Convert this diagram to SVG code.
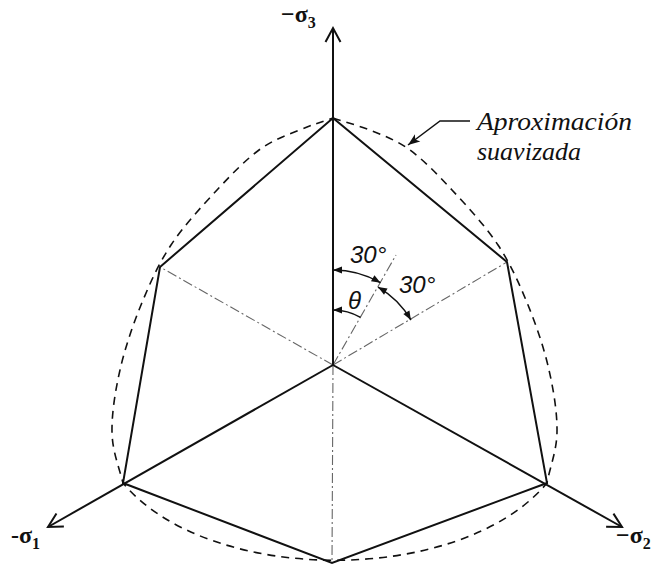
<svg xmlns="http://www.w3.org/2000/svg" width="654" height="567" viewBox="0 0 654 567">
<defs>
<style>
.solid{fill:none;stroke:#111;stroke-width:2;stroke-linejoin:miter}
.axis{fill:none;stroke:#111;stroke-width:2}
.dash{fill:none;stroke:#111;stroke-width:1.6;stroke-dasharray:8 6}
.dd{fill:none;stroke:#666;stroke-width:1.1;stroke-dasharray:10 3 2 3}
.arc{fill:none;stroke:#111;stroke-width:1.5}
.lbl{font-family:"Liberation Serif",serif;font-weight:bold;font-size:24px;fill:#111}
.ang{font-family:"Liberation Sans",sans-serif;font-style:italic;font-size:24px;fill:#111}
.note{font-family:"Liberation Serif",serif;font-style:italic;font-size:26px;fill:#111}
</style>
<marker id="open" viewBox="-16 -9 18 18" markerWidth="18" markerHeight="18" refX="0" refY="0" orient="auto" markerUnits="userSpaceOnUse" overflow="visible">
<path d="M-14,-7.5 L0,0 L-14,7.5" fill="none" stroke="#111" stroke-width="2"/>
</marker>
<marker id="small" viewBox="-9 -4 10 8" markerWidth="10" markerHeight="8" refX="0" refY="0" orient="auto-start-reverse" markerUnits="userSpaceOnUse" overflow="visible">
<path d="M-9,-3.5 L0,0 L-9,3.5 Z" fill="#111"/>
</marker>
<marker id="ptr" viewBox="-12 -5 13 10" markerWidth="13" markerHeight="10" refX="0" refY="0" orient="auto" markerUnits="userSpaceOnUse" overflow="visible">
<path d="M-12,-4.5 L0,0 L-12,4.5 L-9,0 Z" fill="#111"/>
</marker>
</defs>
<rect width="654" height="567" fill="#fff"/>
<g id="connectors">
<path id="smooth" class="dash" d="M333,118 C346,122.3 359.2,125.7 372,131 C384.8,136.3 396.7,140.2 410,150 C423.3,159.8 437.3,174.2 452,190 C466.7,205.8 485.3,225.8 498,245 C510.7,264.2 519.5,284.2 528,305 C536.5,325.8 544.2,348.8 549,370 C553.8,391.2 557.3,413.2 557,432 C556.7,450.8 550.3,466 547,483 C461,586 209,586 123,483 C118.7,466 112.3,450.8 112,432 C111.7,413.2 115.2,391.2 120,370 C124.8,348.8 132.5,325.8 141,305 C149.5,284.2 158.3,264.2 171,245 C183.7,225.8 202.3,205.8 217,190 C231.7,174.2 245.7,159.8 259,150 C272.3,140.2 284.2,136.3 297,131 C309.8,125.7 320,122.3 333,118 Z"/>
<path class="dd" d="M333,365 L160,267"/>
<path class="dd" d="M333,365 L507,262"/>
<path class="dd" d="M333,365 L332,563"/>
<path class="dd" d="M333,365 L396,255"/>
<path id="hexagon" class="solid" d="M333,118 L507,262 L547,483 L332,563 L123,483 L160,267 Z"/>
<path class="axis" d="M333,365 L333,28" marker-end="url(#open)"/>
<path class="axis" d="M333,365 L48,527" marker-end="url(#open)"/>
<path class="axis" d="M333,365 L622,527" marker-end="url(#open)"/>
<path class="arc" d="M333,270 A95,95 0 0 1 380.5,282.7" marker-start="url(#small)" marker-end="url(#small)"/>
<path class="arc" d="M378,287.1 A90,90 0 0 1 410.9,320" marker-start="url(#small)" marker-end="url(#small)"/>
<path class="arc" d="M333,310 A55,55 0 0 1 360.5,317.4" marker-start="url(#small)"/>
<path class="arc" d="M470,121 L440,121 L408,145" marker-end="url(#ptr)"/>
</g>
<g id="label-s3"><text class="lbl" x="281" y="22">−σ<tspan font-size="16" dy="6">3</tspan></text></g>
<g id="label-s1"><text class="lbl" x="11" y="543">-σ<tspan font-size="16" dy="6">1</tspan></text></g>
<g id="label-s2"><text class="lbl" x="616" y="543">−σ<tspan font-size="16" dy="6">2</tspan></text></g>
<g id="label-30a"><text class="ang" x="350" y="263">30°</text></g>
<g id="label-30b"><text class="ang" x="399" y="293">30°</text></g>
<g id="label-theta"><text class="ang" x="348" y="309">θ</text></g>
<g id="label-note"><text class="note" x="477" y="130" textLength="155" lengthAdjust="spacingAndGlyphs">Aproximación</text><text class="note" x="477" y="160">suavizada</text></g>
</svg>
